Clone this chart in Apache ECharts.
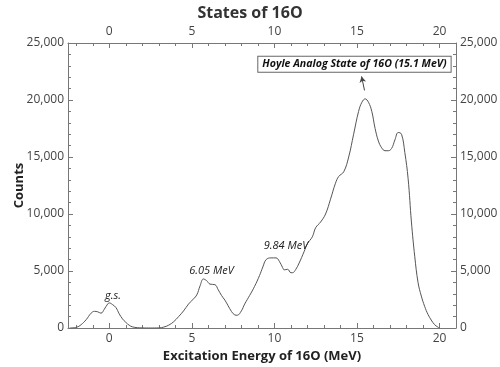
<!DOCTYPE html>
<html>
<head>
<meta charset="utf-8">
<script src="https://cdn.jsdelivr.net/npm/echarts@6/dist/echarts.min.js"></script>
<style>
  html, body { margin: 0; padding: 0; background: #fff; }
  #main { width: 500px; height: 367px; }
</style>
</head>
<body>
<div id="main"></div>
<script>
// excitation energy (MeV) and counts
var energy = [-2.4, -2.0, -1.7, -1.4, -1.1, -0.9, -0.7, -0.5, -0.3, -0.1, 0.0, 0.2, 0.4, 0.6, 0.8, 1.0, 1.2, 1.4, 1.7, 2.0, 2.5,
  3.0, 3.3, 3.6, 3.9, 4.2, 4.5, 4.8, 5.1, 5.3, 5.5, 5.7, 5.9, 6.1, 6.4, 6.6, 6.8, 7.0, 7.2, 7.4, 7.6, 7.75,
  8.0, 8.2, 8.5, 8.8, 9.1, 9.3, 9.5, 9.8, 10.1, 10.3, 10.5, 10.6, 10.8, 11.0, 11.1, 11.3, 11.5, 11.8,
  12.0, 12.3, 12.5, 12.8, 13.1, 13.4, 13.7, 13.9, 14.2, 14.5, 14.8, 15.1, 15.3, 15.5, 15.7, 15.9,
  16.1, 16.3, 16.5, 16.7, 16.9, 17.1, 17.3, 17.5, 17.7, 17.9, 18.1, 18.3, 18.5, 18.7, 18.9, 19.1, 19.3, 19.5, 19.7, 19.9, 20.0];
var counts = [0, 50, 300, 730, 1300, 1460, 1420, 1300, 1650, 2100, 2200, 2050, 1800, 1250, 800, 500, 250, 100, 30, 10, 0,
  10, 80, 250, 550, 1000, 1500, 2100, 2550, 2900, 3700, 4300, 4150, 3850, 3800, 3350, 2850, 2450, 1950, 1450, 1150, 1120,
  1500, 2100, 2850, 3650, 4600, 5350, 6000, 6150, 6150, 5850, 5300, 5100, 5150, 4850, 4850, 5150, 5700, 6700,
  7400, 8000, 8800, 9300, 10000, 11300, 12700, 13300, 13700, 15000, 17000, 19000, 19800, 20100, 19800, 19000,
  17500, 16400, 15800, 15550, 15550, 15750, 16500, 17150, 17000, 15400, 13100, 9300, 6300, 4000, 2800, 1900, 1200, 700, 300, 80, 0];

var xMajor = [0, 5, 10, 15, 20];
var xMinor = [-2, -1, 0, 1, 2, 3, 4, 5, 6, 7, 8, 9, 10, 11, 12, 13, 14, 15, 16, 17, 18, 19, 20, 21];

// peak labels: [energy, counts, text]
var peakLabels = [
  [0.23, 2760, 'g.s.'],
  [6.19, 4960, '6.05 MeV'],
  [10.7, 7170, '9.84 MeV']
];
var hoyleLabel = [14.85, 23090, 'Hoyle Analog State of 16O (15.1 MeV)'];
var hoyleArrow = [[15.46, 20840], [15.28, 22070]];

var font = 'Open Sans';
var lineCol = '#777';
var textCol = '#444';

var chart = echarts.init(document.getElementById('main'));

function xAx(pos, major, showName) {
  return {
    type: 'value', position: pos, min: -2.5, max: 21,
    name: showName ? 'Excitation Energy of 16O (MeV)' : '',
    nameLocation: 'middle', nameGap: 21,
    nameTextStyle: { fontFamily: font, fontWeight: 'bold', fontSize: 13, color: '#222' },
    axisLine: { show: major, onZero: false, lineStyle: { color: lineCol } },
    axisTick: { show: true, inside: true, length: major ? 5 : 3, customValues: major ? xMajor : xMinor,
      lineStyle: { color: lineCol } },
    axisLabel: { show: major, customValues: xMajor, fontFamily: font, fontSize: 12, color: textCol, margin: 5 },
    splitLine: { show: false }
  };
}

function yAx(pos, showName) {
  return {
    type: 'value', position: pos, min: 0, max: 25000, interval: 5000,
    name: showName ? 'Counts' : '',
    nameLocation: 'middle', nameGap: 42, nameMoveOverlap: false,
    nameTextStyle: { fontFamily: font, fontWeight: 'bold', fontSize: 13, color: '#222' },
    axisLine: { show: true, onZero: false, lineStyle: { color: lineCol } },
    axisTick: { show: true, inside: true, length: 5, lineStyle: { color: lineCol } },
    minorTick: { show: true, splitNumber: 5, length: 3, lineStyle: { color: lineCol } },
    axisLabel: { fontFamily: font, fontSize: 12, color: textCol, margin: 4,
      formatter: function (v) { return v.toLocaleString('en-US'); } },
    splitLine: { show: false }
  };
}

var data = energy.map(function (e, i) { return [e, counts[i]]; });

var marks = peakLabels.map(function (p) {
  return {
    coord: [p[0], p[1]], symbolSize: 1, itemStyle: { color: 'transparent' },
    label: { show: true, position: 'inside', formatter: p[2], fontFamily: font, fontStyle: 'italic',
      fontSize: 11, color: '#222' }
  };
});
marks.push({
  coord: [hoyleLabel[0], hoyleLabel[1]], symbolSize: 1, itemStyle: { color: 'transparent' },
  label: { show: true, position: 'inside', formatter: hoyleLabel[2], fontFamily: font,
    fontStyle: 'italic', fontWeight: 'bold', fontSize: 10.6, color: '#111',
    borderColor: '#666', borderWidth: 1, padding: [2, 4, 2, 4], backgroundColor: '#fff' }
});

option = {
  animation: false,
  backgroundColor: '#fff',
  title: {
    text: 'States of 16O', left: 'center', top: 0,
    textStyle: { fontFamily: font, fontWeight: 'bold', fontSize: 16, color: '#333' }
  },
  grid: { left: 68, right: 44, top: 43, bottom: 39, outerBoundsMode: 'none' },
  xAxis: [xAx('bottom', true, true), xAx('bottom', false, false), xAx('top', true, false), xAx('top', false, false)],
  yAxis: [yAx('left', true), yAx('right', false)],
  series: [{
    type: 'line',
    data: data,
    smooth: 0.4,
    symbol: 'none',
    lineStyle: { color: '#555', width: 1 },
    markPoint: { silent: true, data: marks },
    markLine: {
      silent: true, symbol: ['none', 'arrow'], symbolSize: [5, 6],
      lineStyle: { color: '#444', width: 1, type: 'solid' },
      label: { show: false },
      data: [[{ coord: hoyleArrow[0] }, { coord: hoyleArrow[1] }]]
    }
  }]
};
chart.setOption(option);
</script>
</body>
</html>
